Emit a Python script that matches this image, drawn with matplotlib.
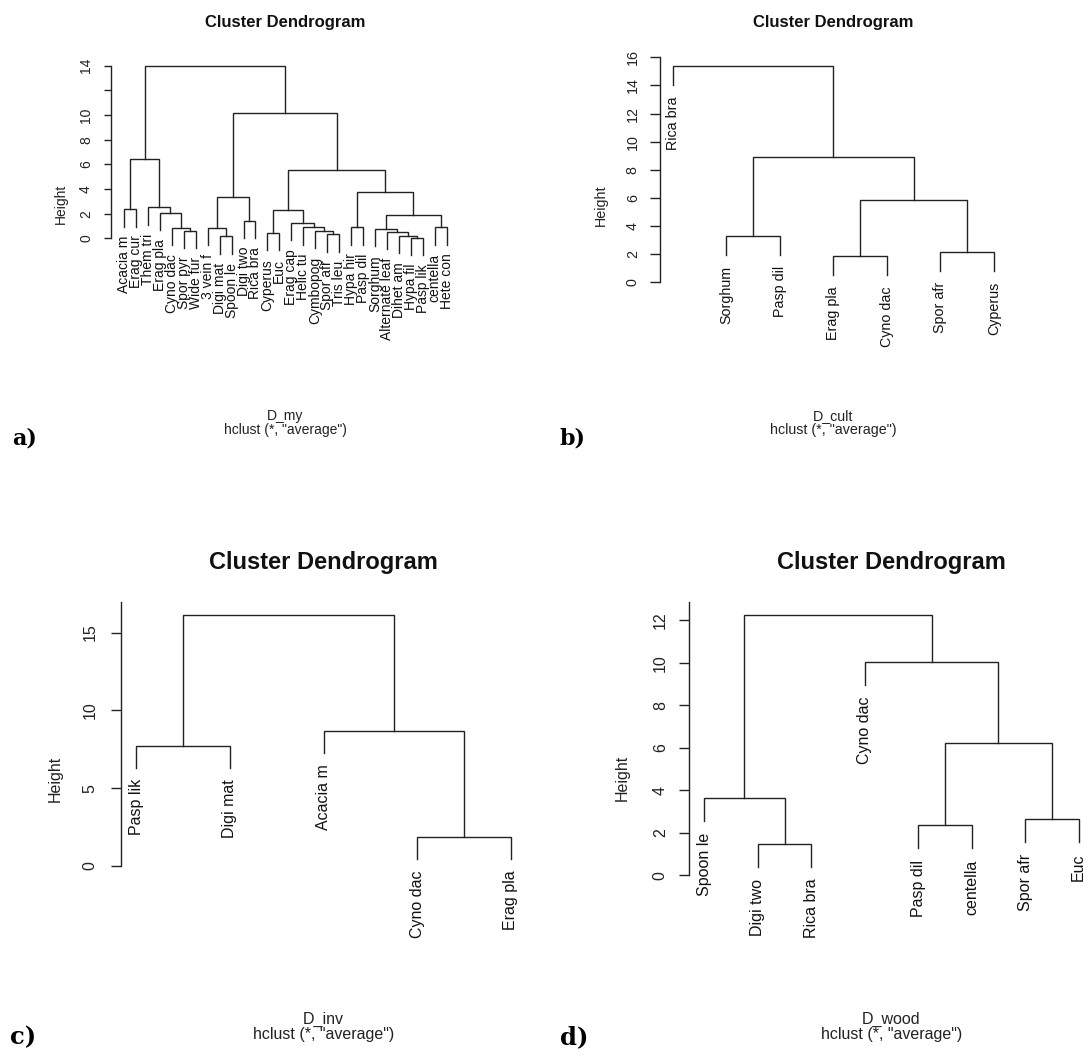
import matplotlib
matplotlib.use("Agg")
import matplotlib.pyplot as plt
from matplotlib.transforms import offset_copy

W, H = 1088, 1055
LINE = "#222222"
plt.rcParams['font.family'] = ['Liberation Sans', 'DejaVu Sans']

# ---- panel a : D_my ----
a_labels = ["Acacia m", "Erag cur", "Them tri", "Erag pla", "Cyno dac", "Spor pyr",
            "Wide fur", "3 vein f", "Digi mat", "Spoon le", "Digi two", "Rica bra",
            "Cyperus", "Euc", "Erag cap", "Helic tu", "Cymbopog", "Spor afr",
            "Tris leu", "Hypa hir", "Pasp dil", "Sorghum", "Alternate leaf",
            "Dihet am", "Hypa fil", "Pasp lik", "centella", "Hete con"]
# R style merge: negative = leaf (1-based, in plotted order), positive = earlier merge
a_merge = [(-25, -26), (-9, -10), (-24, 1), (-18, -19), (-13, -14), (-23, 3),
           (-6, -7), (-17, 4), (-22, 6), (-5, 7), (-8, 2), (-16, 8), (-20, -21),
           (-27, -28), (-15, 12), (-11, -12), (9, 14), (-4, 10), (5, 15), (-1, -2),
           (-3, 18), (11, 16), (13, 17), (19, 23), (20, 21), (22, 24), (25, 26)]
a_height = [0.05, 0.15, 0.19, 0.32, 0.46, 0.54, 0.62, 0.62, 0.78, 0.86, 0.86,
            0.89, 0.89, 0.89, 1.22, 1.43, 1.90, 2.03, 2.30, 2.35, 2.50, 3.32,
            3.73, 5.54, 6.43, 10.14, 14.0]
a_ticks = [0, 2, 4, 6, 8, 10, 12, 14]
a_ticklabels = ["0", "2", "4", "6", "8", "10", "", "14"]

# ---- panel b : D_cult ----
b_labels = ["Rica bra", "Sorghum", "Pasp dil", "Erag pla", "Cyno dac", "Spor afr", "Cyperus"]
b_merge = [(-4, -5), (-6, -7), (-2, -3), (1, 2), (3, 4), (-1, 5)]
b_height = [1.85, 2.18, 3.31, 5.83, 8.94, 15.36]
b_ticks = [0, 2, 4, 6, 8, 10, 12, 14, 16]
b_ticklabels = ["0", "2", "4", "6", "8", "10", "12", "14", "16"]

# ---- panel c : D_inv ----
c_labels = ["Pasp lik", "Digi mat", "Acacia m", "Cyno dac", "Erag pla"]
c_merge = [(-4, -5), (-1, -2), (-3, 1), (2, 3)]
c_height = [1.85, 7.73, 8.68, 16.13]
c_ticks = [0, 5, 10, 15]
c_ticklabels = ["0", "5", "10", "15"]

# ---- panel d : D_wood ----
d_labels = ["Spoon le", "Digi two", "Rica bra", "Cyno dac", "Pasp dil", "centella",
            "Spor afr", "Euc"]
d_merge = [(-2, -3), (-5, -6), (-7, -8), (-1, 1), (2, 3), (-4, 5), (4, 6)]
d_height = [1.48, 2.37, 2.66, 3.65, 6.24, 10.04, 12.25]
d_ticks = [0, 2, 4, 6, 8, 10, 12]
d_ticklabels = ["0", "2", "4", "6", "8", "10", "12"]


def draw_dendro(ax, labels, merge, height, fs, gap):
    """draw an hclust style dendrogram, leaves at x = 1..n"""
    hang = 0.1 * (max(height) - min(height))
    mx, my = [], []

    def pos(k):
        if k < 0:
            return -k, None
        return mx[k - 1], my[k - 1]

    for (l, r), h in zip(merge, height):
        xl, yl = pos(l)
        xr, yr = pos(r)
        ax.plot([xl, xl, xr, xr],
                [yl if yl is not None else h - hang, h, h,
                 yr if yr is not None else h - hang],
                color=LINE, lw=1.0, solid_joinstyle='miter', clip_on=False)
        for k, xk, yk in ((l, xl, yl), (r, xr, yr)):
            if k < 0:
                ax.annotate(labels[-k - 1], (xk, h - hang), xytext=(0, -gap),
                            textcoords='offset pixels', rotation=90,
                            ha='center', va='top', fontsize=fs, color='#111111',
                            annotation_clip=False)
        mx.append((xl + xr) / 2)
        my.append(h)


def panel(fig, n, x1px, xnpx, y0px, ppu, toppx, botpx):
    step = (xnpx - x1px) / (n - 1)
    ex = 0.04 * (n - 1)
    left = x1px - ex * step
    right = xnpx + ex * step
    ax = fig.add_axes([left / W, 1 - botpx / H, (right - left) / W, (botpx - toppx) / H])
    ax.set_xlim(1 - ex, n + ex)
    ax.set_ylim((y0px - botpx) / ppu, (y0px - toppx) / ppu)
    ax.patch.set_alpha(0)
    for s in ("top", "right", "bottom"):
        ax.spines[s].set_visible(False)
    ax.set_xticks([])
    return ax, (left + right) / 2


def axis(ax, ticks, labels, top, ticklen, lab_off, fs):
    ax.spines['left'].set_bounds(ticks[0], top)
    ax.spines['left'].set_color(LINE)
    ax.spines['left'].set_linewidth(1.0)
    ax.set_yticks(ticks, labels=[""] * len(ticks))
    ax.tick_params(axis='y', length=ticklen * 0.72, width=1.0, color=LINE)
    tr = offset_copy(ax.get_yaxis_transform(), fig=ax.figure, x=-lab_off, y=0, units='dots')
    for t, s in zip(ticks, labels):
        ax.text(0, t, s, transform=tr, rotation=90, ha='center', va='center',
                fontsize=fs, color='#222222')


fig = plt.figure(figsize=(W / 100, H / 100), dpi=100)

panels = [
    dict(lab=a_labels, mer=a_merge, hei=a_height, tk=a_ticks, tl=a_ticklabels,
         geo=(124, 446.7, 238.3, 12.33, 54.6, 354), axtop=14, tlen=7.3, loff=25,
         fs=10, gap=9, hx=61, tit_y=27, tfs=12, xl="D_my", xl_y=420, sub_y=434,
         let="a)", let_x=12, let_y=444, lfs=16),
    dict(lab=b_labels, mer=b_merge, hei=b_height, tk=b_ticks, tl=b_ticklabels,
         geo=(672.7, 994, 282.3, 14.06, 55.2, 356), axtop=16, tlen=10, loff=27,
         fs=10.3, gap=11, hx=601, tit_y=27, tfs=12, xl="D_cult", xl_y=420, sub_y=434,
         let="b)", let_x=559, let_y=444, lfs=16),
    dict(lab=c_labels, mer=c_merge, hei=c_height, tk=c_ticks, tl=c_ticklabels,
         geo=(136.3, 511, 866, 15.56, 601.7, 956), axtop=None, tlen=10, loff=31,
         fs=11.5, gap=11, hx=55, tit_y=569, tfs=17, xl="D_inv", xl_y=1024, sub_y=1039,
         let="c)", let_x=10, let_y=1044, lfs=17.5),
    dict(lab=d_labels, mer=d_merge, hei=d_height, tk=d_ticks, tl=d_ticklabels,
         geo=(704.3, 1078.7, 875.3, 21.25, 601.7, 955), axtop=None, tlen=10.5, loff=29,
         fs=11.5, gap=12, hx=622, tit_y=569, tfs=17, xl="D_wood", xl_y=1024, sub_y=1039,
         let="d)", let_x=560, let_y=1044, lfs=17.5),
]

for p in panels:
    n = len(p["lab"])
    ax, cx = panel(fig, n, *p["geo"])
    draw_dendro(ax, p["lab"], p["mer"], p["hei"], p["fs"], p["gap"])
    top = p["axtop"] if p["axtop"] is not None else ax.get_ylim()[1]
    axis(ax, p["tk"], p["tl"], top, p["tlen"], p["loff"], p["fs"])
    top_px, bot_px = p["geo"][4], p["geo"][5]
    fig.text(p["hx"] / W, 1 - (top_px + bot_px) / 2 / H, "Height", rotation=90,
             ha='center', va='center', fontsize=p["fs"], color='#222222')
    fig.text(cx / W, 1 - p["tit_y"] / H, "Cluster Dendrogram", ha='center',
             va='baseline', fontsize=p["tfs"], fontweight='bold', color='#111111')
    fig.text(cx / W, 1 - p["xl_y"] / H, p["xl"], ha='center', va='baseline',
             fontsize=p["fs"], color='#222222')
    fig.text(cx / W, 1 - p["sub_y"] / H, 'hclust (*, "average")', ha='center',
             va='baseline', fontsize=p["fs"], color='#222222')
    fig.text(p["let_x"] / W, 1 - p["let_y"] / H, p["let"], ha='left', va='baseline',
             fontsize=p["lfs"], fontweight='bold', family='DejaVu Serif', color='black')

fig.savefig("out.png", dpi=100, facecolor='white')
